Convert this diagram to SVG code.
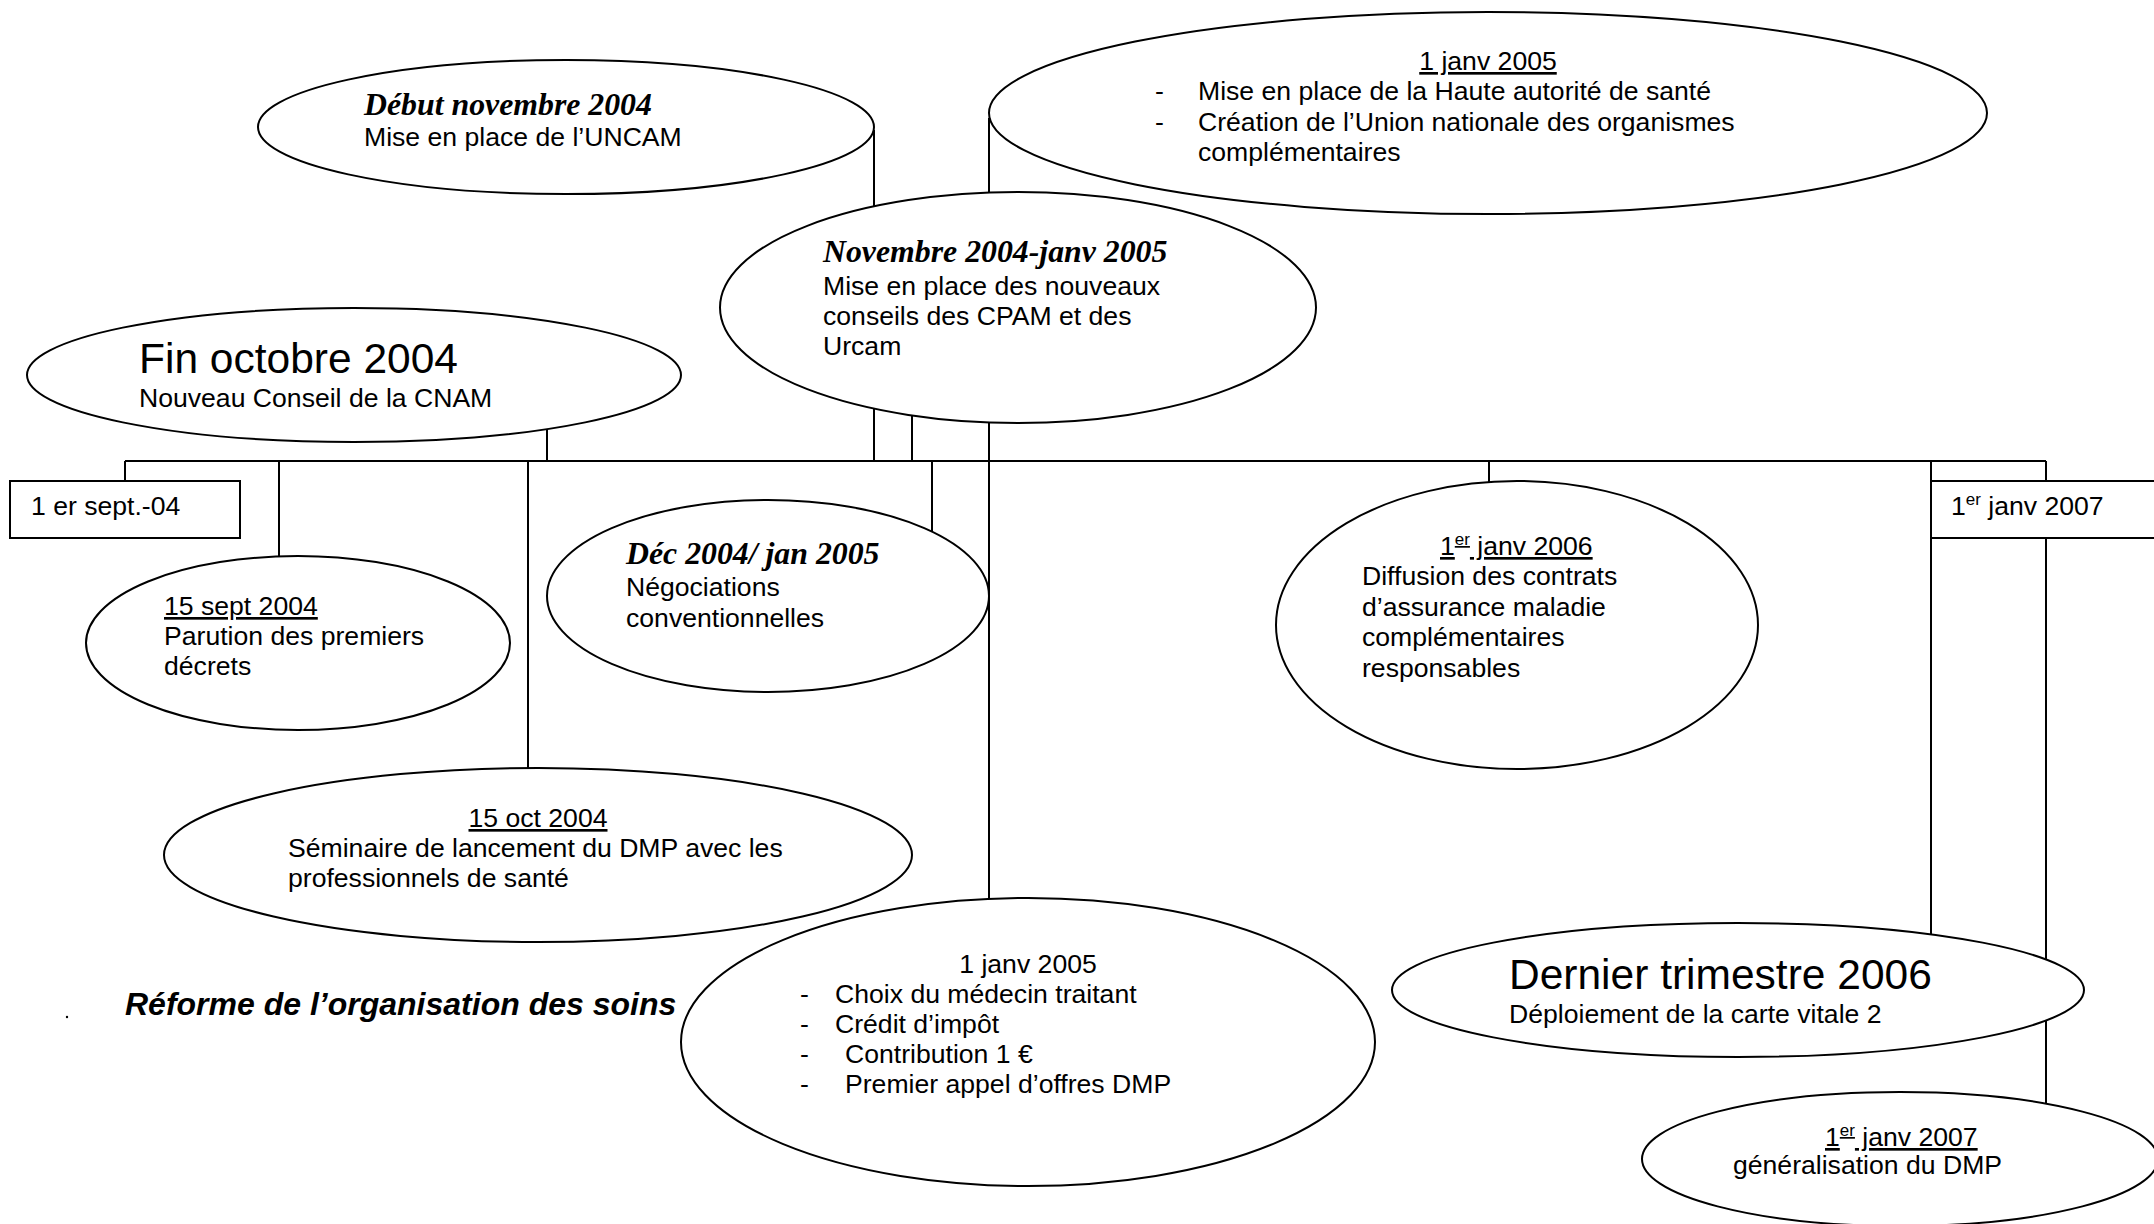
<svg xmlns="http://www.w3.org/2000/svg" width="2154" height="1224" viewBox="0 0 2154 1224">
<style>
.bg{fill:#ffffff}
.e{fill:#ffffff;stroke:#000000;stroke-width:2}
.b{fill:#ffffff;stroke:#000000;stroke-width:2}
.c{fill:none;stroke:#000000;stroke-width:2}
.t{font-family:"Liberation Sans",Arial,sans-serif;font-size:26.6px;fill:#000}
.big{font-family:"Liberation Sans",Arial,sans-serif;font-size:42.5px;fill:#000}
.h{font-family:"Liberation Serif","Times New Roman",serif;font-size:31.8px;font-weight:bold;font-style:italic;fill:#000}
.r{font-family:"Liberation Sans",Arial,sans-serif;font-size:32px;font-weight:bold;font-style:italic;fill:#000}
.u{text-decoration:underline}
</style>
<rect class="bg" x="0" y="0" width="2154" height="1224"/>
<g id="connectors">
<path class="c" d="M125 461 H2046"/>
<path class="c" d="M125 461 V481"/>
<path class="c" d="M279 461 V557"/>
<path class="c" d="M528 461 V768"/>
<path class="c" d="M547 429 V461"/>
<path class="c" d="M874 130 V206"/>
<path class="c" d="M874 409 V461"/>
<path class="c" d="M912 415 V461"/>
<path class="c" d="M932 461 V532"/>
<path class="c" d="M989 118 V193"/>
<path class="c" d="M989 422 V899"/>
<path class="c" d="M1489 461 V482"/>
<path class="c" d="M1931 461 V934"/>
<path class="c" d="M2046 461 V481"/>
<path class="c" d="M2046 538 V1104"/>
</g>
<g id="debut-nov-2004">
<ellipse class="e" cx="566" cy="127" rx="308" ry="67"/>
<text class="h" x="364" y="115">Début novembre 2004</text>
<text class="t" x="364" y="146">Mise en place de l’UNCAM</text>
</g>
<g id="janv-2005-top">
<ellipse class="e" cx="1488" cy="113" rx="499" ry="101"/>
<text class="t u" x="1488" y="70" text-anchor="middle">1 janv 2005</text>
<text class="t" x="1155" y="100">-</text>
<text class="t" x="1198" y="100">Mise en place de la Haute autorité de santé</text>
<text class="t" x="1155" y="131">-</text>
<text class="t" x="1198" y="131">Création de l’Union nationale des organismes</text>
<text class="t" x="1198" y="161">complémentaires</text>
</g>
<g id="nov-2004-janv-2005">
<ellipse class="e" cx="1018" cy="307.5" rx="298" ry="115.5"/>
<text class="h" x="823" y="262">Novembre 2004-janv 2005</text>
<text class="t" x="823" y="295">Mise en place des nouveaux</text>
<text class="t" x="823" y="325">conseils des CPAM et des</text>
<text class="t" x="823" y="355">Urcam</text>
</g>
<g id="fin-oct-2004">
<ellipse class="e" cx="354" cy="375" rx="327" ry="67"/>
<text class="big" x="139" y="373">Fin octobre 2004</text>
<text class="t" x="139" y="407">Nouveau Conseil de la CNAM</text>
</g>
<g id="sept-04">
<rect class="b" x="10" y="481" width="230" height="57"/>
<text class="t" x="31" y="515">1 er sept.-04</text>
</g>
<g id="janv-2007-box">
<rect class="b" x="1931" y="481" width="240" height="57"/>
<text class="t" x="1951" y="515">1<tspan font-size="17" dy="-10">er</tspan><tspan dy="10"> janv 2007</tspan></text>
</g>
<g id="sept-2004">
<ellipse class="e" cx="298" cy="643" rx="212" ry="87"/>
<text class="t u" x="164" y="615">15 sept 2004</text>
<text class="t" x="164" y="645">Parution des premiers</text>
<text class="t" x="164" y="675">décrets</text>
</g>
<g id="dec-2004">
<ellipse class="e" cx="768" cy="596" rx="221" ry="96"/>
<text class="h" x="626" y="564">Déc 2004/ jan 2005</text>
<text class="t" x="626" y="596">Négociations</text>
<text class="t" x="626" y="627">conventionnelles</text>
</g>
<g id="oct-2004">
<ellipse class="e" cx="538" cy="855" rx="374" ry="87"/>
<text class="t u" x="538" y="827" text-anchor="middle">15 oct 2004</text>
<text class="t" x="288" y="857">Séminaire de lancement du DMP avec les</text>
<text class="t" x="288" y="887">professionnels de santé</text>
</g>
<g id="janv-2005-bottom">
<ellipse class="e" cx="1028" cy="1042" rx="347" ry="144"/>
<text class="t" x="1028" y="973" text-anchor="middle">1 janv 2005</text>
<text class="t" x="800" y="1003">-</text>
<text class="t" x="835" y="1003">Choix du médecin traitant</text>
<text class="t" x="800" y="1033">-</text>
<text class="t" x="835" y="1033">Crédit d’impôt</text>
<text class="t" x="800" y="1063">-</text>
<text class="t" x="845" y="1063">Contribution 1 €</text>
<text class="t" x="800" y="1093">-</text>
<text class="t" x="845" y="1093">Premier appel d’offres DMP</text>
</g>
<g id="reforme">
<circle cx="67" cy="1017" r="1.2" fill="#000"/>
<text class="r" x="125" y="1015">Réforme de l’organisation des soins</text>
</g>
<g id="janv-2006">
<ellipse class="e" cx="1517" cy="625" rx="241" ry="144"/>
<text class="t u" x="1440" y="555">1<tspan font-size="17" dy="-10">er</tspan><tspan dy="10"> janv 2006</tspan></text>
<text class="t" x="1362" y="585">Diffusion des contrats</text>
<text class="t" x="1362" y="616">d’assurance maladie</text>
<text class="t" x="1362" y="646">complémentaires</text>
<text class="t" x="1362" y="677">responsables</text>
</g>
<g id="dernier-trim-2006">
<ellipse class="e" cx="1738" cy="990" rx="346" ry="67"/>
<text class="big" x="1509" y="989">Dernier trimestre 2006</text>
<text class="t" x="1509" y="1023">Déploiement de la carte vitale 2</text>
</g>
<g id="janv-2007">
<ellipse class="e" cx="1900" cy="1159" rx="258" ry="67"/>
<text class="t u" x="1825" y="1146">1<tspan font-size="17" dy="-10">er</tspan><tspan dy="10"> janv 2007</tspan></text>
<text class="t" x="1733" y="1174">généralisation du DMP</text>
</g>
</svg>
